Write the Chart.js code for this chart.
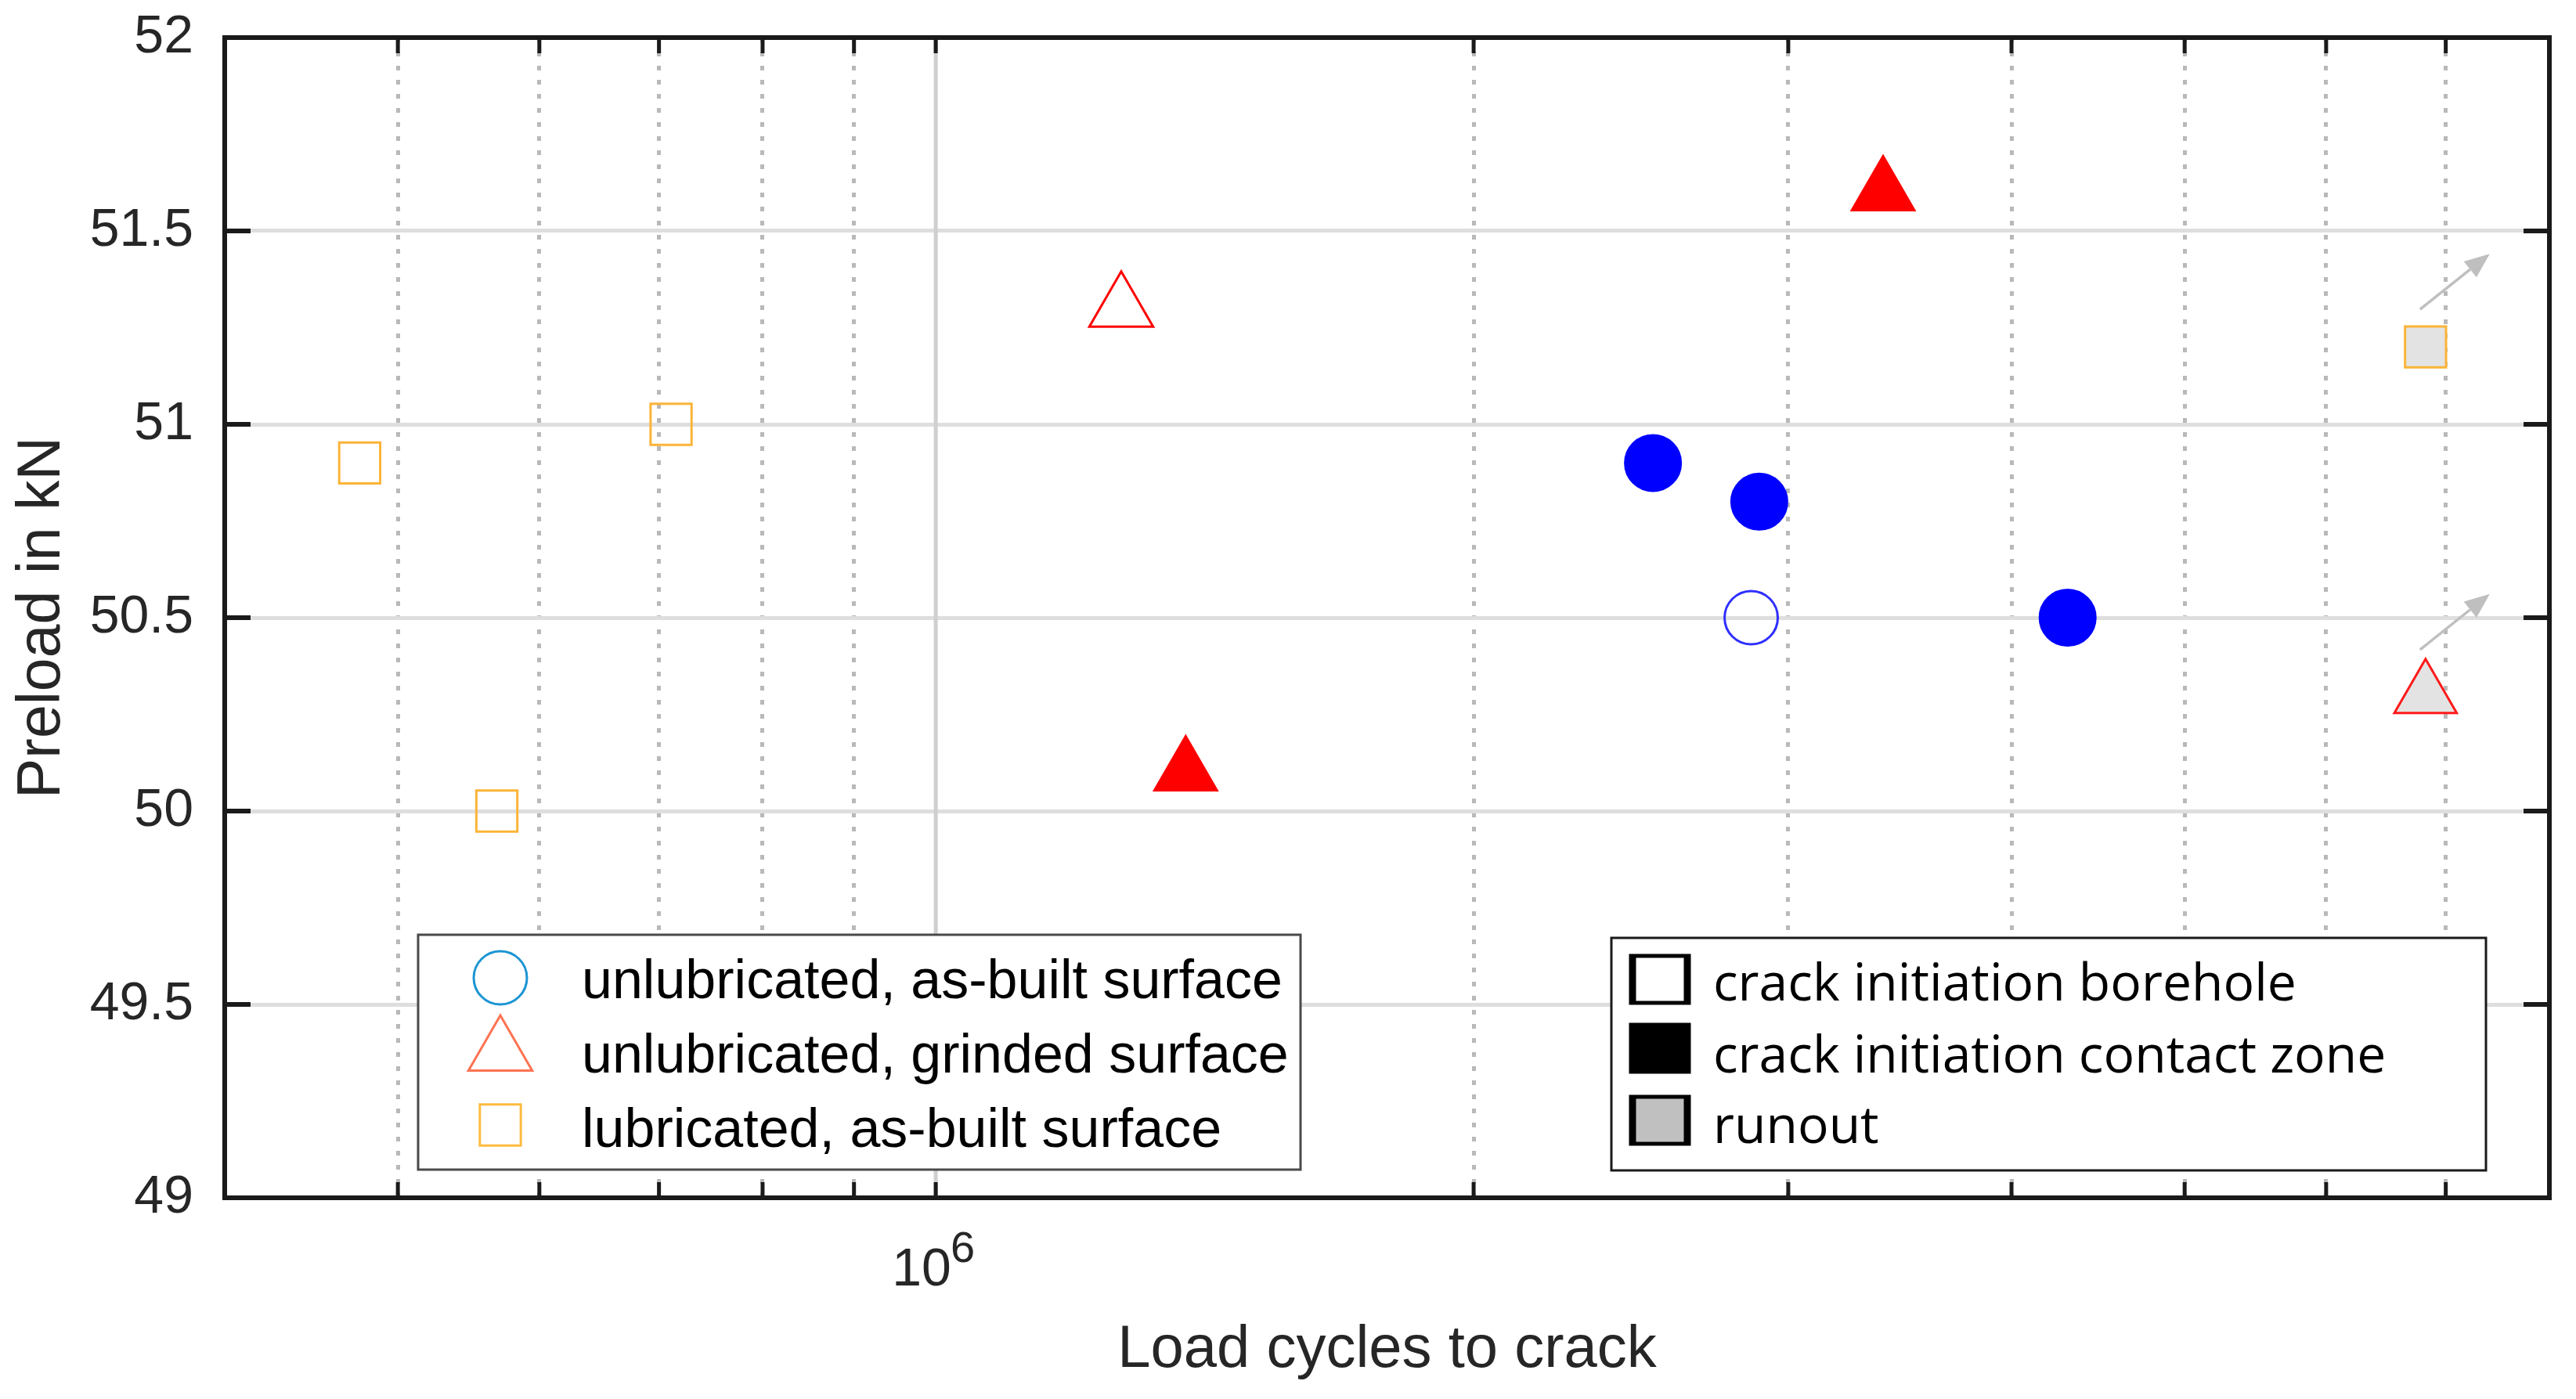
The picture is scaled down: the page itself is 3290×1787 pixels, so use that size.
<!DOCTYPE html>
<html><head><meta charset="utf-8">
<script src="https://cdn.jsdelivr.net/npm/chart.js@4.4.1/dist/chart.umd.min.js"></script>
<style>html,body{margin:0;padding:0;background:#fff;overflow:hidden}canvas{display:block}</style>
</head><body>
<canvas id="c" width="3290" height="1787"></canvas>
<script>
// ---------------- data (load cycles to crack, preload in kN) ----------------
const seriesNames = ['unlubricated, as-built surface', 'unlubricated, grinded surface', 'lubricated, as-built surface'];
const failureNames = ['crack initiation borehole', 'crack initiation contact zone', 'runout'];

const asBuiltContactCycles   = [2.52e6, 2.89e6, 4.30e6];
const asBuiltContactPreload  = [50.9, 50.8, 50.5];
const asBuiltBoreholeCycles  = [2.86e6];
const asBuiltBoreholePreload = [50.5];

const grindedBoreholeCycles  = [1.27e6];
const grindedBoreholePreload = [51.3];
const grindedContactCycles   = [1.38e6, 3.39e6];
const grindedContactPreload  = [50.1, 51.6];
const grindedRunoutCycles    = [6.82e6];
const grindedRunoutPreload   = [50.3];

const lubricatedBoreholeCycles  = [4.76e5, 5.68e5, 7.11e5];
const lubricatedBoreholePreload = [50.9, 50.0, 51.0];
const lubricatedRunoutCycles    = [6.82e6];
const lubricatedRunoutPreload   = [51.2];

const xTickValues = [4e5, 5e5, 6e5, 7e5, 8e5, 9e5, 1e6, 2e6, 3e6, 4e6, 5e6, 6e6, 7e6, 8e6];
const xMajorTick = 1e6;
const xMajorLabel = '10';
const xMajorExponent = '6';
const yMin = 49, yMax = 52, yStep = 0.5;
const xMin = 4e5, xMax = 8e6;

// ---------------------------------------------------------------------------
const pts = (xs, ys) => xs.map((x, i) => ({x: x, y: ys[i]}));
const FONT = "'Liberation Sans', Arial, sans-serif";
const TXT = '#262626';
const RUNOUT_FILL = '#e3e3e3';

const datasets = [
  {label: 'asBuiltContact', data: pts(asBuiltContactCycles, asBuiltContactPreload), pointStyle: 'circle', pointRadius: 36,
   backgroundColor: '#0000ff', borderColor: '#0000ff', borderWidth: 2},
  {label: 'asBuiltBorehole', data: pts(asBuiltBoreholeCycles, asBuiltBoreholePreload), pointStyle: 'circle', pointRadius: 34,
   backgroundColor: 'rgba(255,255,255,0)', borderColor: '#2f2fff', borderWidth: 3},
  {label: 'grindedBorehole', data: pts(grindedBoreholeCycles, grindedBoreholePreload), pointStyle: 'triangle', pointRadius: 47,
   backgroundColor: 'rgba(255,255,255,0)', borderColor: '#ff0000', borderWidth: 3},
  {label: 'grindedContact', data: pts(grindedContactCycles, grindedContactPreload), pointStyle: 'triangle', pointRadius: 47,
   backgroundColor: '#ff0000', borderColor: '#ff0000', borderWidth: 2},
  {label: 'grindedRunout', data: pts(grindedRunoutCycles, grindedRunoutPreload), pointStyle: 'triangle', pointRadius: 46,
   backgroundColor: RUNOUT_FILL, borderColor: '#ff1a1a', borderWidth: 3, runout: true},
  {label: 'lubricatedBorehole', data: pts(lubricatedBoreholeCycles, lubricatedBoreholePreload), pointStyle: 'rect', pointRadius: 37,
   backgroundColor: 'rgba(255,255,255,0)', borderColor: '#fbb438', borderWidth: 3},
  {label: 'lubricatedRunout', data: pts(lubricatedRunoutCycles, lubricatedRunoutPreload), pointStyle: 'rect', pointRadius: 37,
   backgroundColor: RUNOUT_FILL, borderColor: '#fbb438', borderWidth: 3, runout: true}
];
datasets.forEach(d => { d.type = 'scatter'; d.showLine = false; d.pointHoverRadius = d.pointRadius; });

function drawMarker(ctx, style, x, y, r, fill, stroke, lw) {
  ctx.save();
  ctx.beginPath();
  if (style === 'circle') {
    ctx.arc(x, y, r, 0, Math.PI * 2);
  } else if (style === 'triangle') {
    let a = 0;
    for (let k = 0; k < 3; k++) {
      const px = x + Math.sin(a) * r, py = y - Math.cos(a) * r;
      if (k === 0) ctx.moveTo(px, py); else ctx.lineTo(px, py);
      a += 2 * Math.PI / 3;
    }
    ctx.closePath();
  } else {
    const s = Math.SQRT1_2 * r;
    ctx.rect(x - s, y - s, 2 * s, 2 * s);
  }
  if (fill) { ctx.fillStyle = fill; ctx.fill(); }
  if (stroke) { ctx.strokeStyle = stroke; ctx.lineWidth = lw; ctx.stroke(); }
  ctx.restore();
}

const decor = {
  id: 'decor',
  beforeDatasetsDraw(chart) {
    const {ctx, chartArea: a, scales: {x}} = chart;
    const px = x.getPixelForValue(xMajorTick);
    ctx.save();
    ctx.strokeStyle = '#cfcfcf';
    ctx.lineWidth = 5;
    ctx.beginPath();
    ctx.moveTo(px, a.top);
    ctx.lineTo(px, a.bottom);
    ctx.stroke();
    ctx.restore();
  },
  afterDatasetsDraw(chart) {
    const {ctx} = chart;
    // runout arrows
    chart.data.datasets.forEach((ds, i) => {
      if (!ds.runout) return;
      chart.getDatasetMeta(i).data.forEach(el => {
        const lift = ds.pointStyle === 'triangle' ? 10 : 0;
        const sx = el.x - 7, sy = el.y - 48 - lift;
        const tx = el.x + 82, ty = el.y - 119 - lift;
        const ang = Math.atan2(ty - sy, tx - sx);
        const hl = 32, hw = 13;
        const bx = tx - Math.cos(ang) * hl, by = ty - Math.sin(ang) * hl;
        ctx.save();
        ctx.strokeStyle = '#bfbfbf';
        ctx.fillStyle = '#bfbfbf';
        ctx.lineWidth = 3.5;
        ctx.beginPath(); ctx.moveTo(sx, sy); ctx.lineTo(bx, by); ctx.stroke();
        ctx.beginPath();
        ctx.moveTo(tx, ty);
        ctx.lineTo(bx + Math.sin(ang) * hw, by - Math.cos(ang) * hw);
        ctx.lineTo(bx - Math.sin(ang) * hw, by + Math.cos(ang) * hw);
        ctx.closePath(); ctx.fill();
        ctx.restore();
      });
    });

    // legend 1 : surface / lubrication
    ctx.save();
    ctx.fillStyle = '#ffffff';
    ctx.fillRect(534, 1194, 1127, 300);
    ctx.strokeStyle = '#4a4a4a';
    ctx.lineWidth = 3;
    ctx.strokeRect(534, 1194, 1127, 300);
    const l1 = [
      {style: 'circle', r: 34, color: '#1b95d3', cy: 1249, base: 1275},
      {style: 'triangle', r: 47, color: '#ff7352', cy: 1344, base: 1370},
      {style: 'rect', r: 37, color: '#fdbb3f', cy: 1437, base: 1465}
    ];
    l1.forEach((it, k) => {
      drawMarker(ctx, it.style, 639, it.cy, it.r, null, it.color, 3);
      ctx.fillStyle = '#000000';
      ctx.font = '70px ' + FONT;
      ctx.textAlign = 'left';
      ctx.textBaseline = 'alphabetic';
      ctx.fillText(seriesNames[k], 743, it.base);
    });
    ctx.restore();

    // legend 2 : failure location
    ctx.save();
    ctx.fillStyle = '#ffffff';
    ctx.fillRect(2058, 1198, 1117, 297);
    ctx.strokeStyle = '#1a1a1a';
    ctx.lineWidth = 3;
    ctx.strokeRect(2058, 1198, 1117, 297);
    const l2 = [
      {fill: '#ffffff', cy: 1251, base: 1278},
      {fill: '#000000', cy: 1339, base: 1370},
      {fill: '#c0c0c0', cy: 1431, base: 1460}
    ];
    l2.forEach((it, k) => {
      const w = 79, h = 65;
      ctx.fillStyle = '#000000';
      ctx.fillRect(2120 - w / 2, it.cy - h / 2, w, h);
      ctx.fillStyle = it.fill;
      ctx.fillRect(2120 - w / 2 + 9, it.cy - h / 2 + 5, w - 18, h - 10);
      ctx.fillStyle = '#000000';
      ctx.font = "66px 'Open Sans', 'Noto Sans', sans-serif";
      ctx.textAlign = 'left';
      ctx.textBaseline = 'alphabetic';
      ctx.fillText(failureNames[k], 2188, it.base);
    });
    ctx.restore();
  },
  afterDraw(chart) {
    const {ctx, chartArea: a, scales: {x, y}} = chart;
    ctx.save();
    ctx.strokeStyle = '#1a1a1a';
    // tick marks (inside)
    ctx.lineWidth = 6;
    y.ticks.forEach(t => {
      const py = y.getPixelForValue(t.value);
      ctx.beginPath();
      ctx.moveTo(a.left, py); ctx.lineTo(a.left + 33, py);
      ctx.moveTo(a.right, py); ctx.lineTo(a.right - 33, py);
      ctx.stroke();
    });
    ctx.lineWidth = 5;
    x.ticks.forEach(t => {
      if (t.value <= xMin || t.value >= xMax) return;
      const px = x.getPixelForValue(t.value);
      ctx.beginPath();
      ctx.moveTo(px, a.bottom); ctx.lineTo(px, a.bottom - 20);
      ctx.moveTo(px, a.top); ctx.lineTo(px, a.top + 20);
      ctx.stroke();
    });
    // axes box
    ctx.lineWidth = 6;
    ctx.strokeRect(a.left, a.top, a.right - a.left, a.bottom - a.top);
    // exponent of the 10^6 label
    const px = x.getPixelForValue(xMajorTick);
    ctx.fillStyle = TXT;
    ctx.font = '56px ' + FONT;
    ctx.textAlign = 'left';
    ctx.textBaseline = 'alphabetic';
    ctx.fillText(xMajorExponent, px + 19, a.bottom + 82);
    ctx.restore();
  }
};

new Chart(document.getElementById('c'), {
  type: 'scatter',
  data: {datasets: datasets},
  options: {
    responsive: false,
    devicePixelRatio: 1,
    animation: false,
    events: [],
    layout: {autoPadding: false, padding: {top: 48, right: 34, left: 0, bottom: 0}},
    plugins: {legend: {display: false}, tooltip: {enabled: false}},
    scales: {
      x: {
        type: 'logarithmic',
        min: xMin, max: xMax,
        afterBuildTicks: (s) => { s.ticks = xTickValues.map(v => ({value: v})); },
        afterFit: (s) => { s.height = 257; s.paddingLeft = 0; s.paddingRight = 0; },
        grid: {
          color: '#b9b9b9',
          lineWidth: (c) => (c.tick && Math.abs(c.tick.value - xMajorTick) < 1) ? 0 : 5,
          drawTicks: false
        },
        border: {display: false, dash: [6, 12]},
        ticks: {
          autoSkip: false, maxRotation: 0, minRotation: 0,
          padding: 52, labelOffset: -18,
          color: TXT, font: {family: FONT, size: 68},
          callback: (v) => Math.abs(v - xMajorTick) < 1 ? xMajorLabel : ''
        },
        title: {display: true, text: 'Load cycles to crack', color: TXT,
                font: {family: FONT, size: 76}, padding: {top: 0, bottom: 16}}
      },
      y: {
        type: 'linear',
        min: yMin, max: yMax,
        afterFit: (s) => { s.width = 287; s.paddingTop = 0; s.paddingBottom = 0; },
        grid: {color: '#dedede', lineWidth: 5, drawTicks: false},
        border: {display: false},
        ticks: {stepSize: yStep, padding: 40, color: TXT, font: {family: FONT, size: 68},
                callback: (v) => String(v)},
        title: {display: true, text: 'Preload in kN', color: TXT,
                font: {family: FONT, size: 77}, padding: {top: 9, bottom: 0}}
      }
    }
  },
  plugins: [decor]
});
</script>
</body></html>
